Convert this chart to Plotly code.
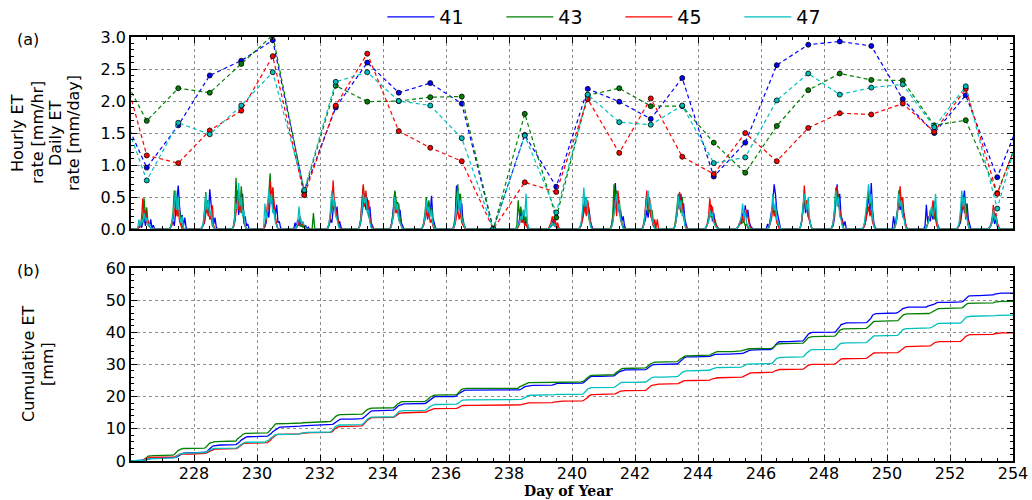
import plotly.graph_objects as go

# ---------------------------------------------------------------------------
# Data
# ---------------------------------------------------------------------------
SERIES = ["41", "43", "45", "47"]
COLORS = ["#0000ff", "#008000", "#ff0000", "#00bfbf"]

FIRST_DAY = 226          # first day of year shown
N_DAYS = 28              # days 226 ... 253
HOUR_START = 5           # first daytime hour held in the hourly tables

# Daily ET [mm/day], one value per day (plotted at noon), days 225 ... 254
DAILY_41 = [2.04, 0.96, 1.62, 2.40, 2.63, 2.95, 0.59, 1.90, 2.60, 2.13, 2.28, 1.96, 0.00, 1.47, 0.66,
            2.19, 1.99, 1.72, 2.36, 0.82, 1.35, 2.56, 2.88, 2.93, 2.86, 2.03, 1.50, 2.09, 0.81, 2.05]
DAILY_43 = [2.62, 1.69, 2.20, 2.13, 2.58, 3.03, 0.58, 2.24, 1.99, 2.00, 2.06, 2.07, 0.00, 1.80, 0.18,
            2.09, 2.20, 1.92, 1.92, 1.35, 0.88, 1.61, 2.17, 2.43, 2.33, 2.32, 1.62, 1.70, 0.56, 1.85]
DAILY_45 = [2.96, 1.15, 1.03, 1.54, 1.85, 2.70, 0.53, 1.93, 2.74, 1.53, 1.27, 1.06, 0.00, 0.73, 0.58,
            2.03, 1.19, 2.04, 1.13, 0.86, 1.50, 1.06, 1.58, 1.81, 1.79, 1.96, 1.52, 2.19, 0.55, 1.85]
DAILY_47 = [2.14, 0.76, 1.66, 1.48, 1.93, 2.45, 0.61, 2.30, 2.45, 2.00, 1.93, 1.42, 0.00, 1.46, 0.26,
            2.10, 1.67, 1.63, 1.93, 1.03, 1.12, 2.01, 2.43, 2.10, 2.21, 2.26, 1.59, 2.23, 0.32, 2.05]

# Hourly ET [mm/hr], hours 05 ... 19 of each day 226 ... 253 (other hours are zero)
HOURLY_41 = [
    [0.00, 0.03, 0.08, 0.02, 0.12, 0.18, 0.05, 0.20, 0.10, 0.04, 0.15, 0.02, 0.06, 0.00, 0.00],
    [0.00, 0.02, 0.06, 0.12, 0.05, 0.30, 0.45, 0.68, 0.35, 0.15, 0.22, 0.05, 0.18, 0.02, 0.00],
    [0.00, 0.02, 0.05, 0.10, 0.28, 0.45, 0.20, 0.62, 0.40, 0.12, 0.08, 0.18, 0.03, 0.00, 0.00],
    [0.00, 0.03, 0.12, 0.35, 0.60, 0.22, 0.48, 0.30, 0.55, 0.15, 0.20, 0.05, 0.08, 0.00, 0.00],
    [0.00, 0.04, 0.10, 0.30, 0.18, 0.45, 0.60, 0.32, 0.40, 0.22, 0.38, 0.10, 0.12, 0.02, 0.00],
    [0.10, 0.02, 0.15, 0.05, 0.12, 0.04, 0.08, 0.02, 0.06, 0.00, 0.03, 0.00, 0.00, 0.00, 0.00],
    [0.00, 0.02, 0.06, 0.15, 0.10, 0.30, 0.45, 0.22, 0.35, 0.08, 0.12, 0.03, 0.00, 0.00, 0.00],
    [0.00, 0.03, 0.10, 0.25, 0.40, 0.55, 0.30, 0.48, 0.20, 0.35, 0.10, 0.05, 0.00, 0.00, 0.00],
    [0.00, 0.04, 0.15, 0.35, 0.58, 0.25, 0.42, 0.18, 0.30, 0.10, 0.05, 0.00, 0.00, 0.00, 0.00],
    [0.00, 0.03, 0.08, 0.20, 0.35, 0.15, 0.40, 0.25, 0.52, 0.18, 0.10, 0.02, 0.00, 0.00, 0.00],
    [0.00, 0.05, 0.20, 0.68, 0.30, 0.55, 0.22, 0.40, 0.10, 0.05, 0.00, 0.00, 0.00, 0.00, 0.00],
    [0.00, 0.00, 0.00, 0.00, 0.00, 0.00, 0.00, 0.00, 0.00, 0.00, 0.00, 0.00, 0.00, 0.00, 0.00],
    [0.00, 0.02, 0.05, 0.15, 0.30, 0.10, 0.22, 0.05, 0.15, 0.08, 0.02, 0.00, 0.00, 0.00, 0.00],
    [0.00, 0.00, 0.02, 0.05, 0.10, 0.15, 0.04, 0.08, 0.02, 0.00, 0.00, 0.00, 0.00, 0.00, 0.00],
    [0.00, 0.02, 0.08, 0.20, 0.35, 0.50, 0.25, 0.40, 0.30, 0.12, 0.05, 0.00, 0.00, 0.00, 0.00],
    [0.00, 0.05, 0.15, 0.40, 0.72, 0.35, 0.55, 0.25, 0.30, 0.12, 0.20, 0.05, 0.00, 0.00, 0.00],
    [0.00, 0.02, 0.08, 0.15, 0.30, 0.18, 0.35, 0.25, 0.12, 0.05, 0.02, 0.00, 0.00, 0.00, 0.00],
    [0.00, 0.03, 0.10, 0.22, 0.45, 0.30, 0.55, 0.28, 0.40, 0.15, 0.05, 0.00, 0.00, 0.00, 0.00],
    [0.00, 0.02, 0.06, 0.15, 0.28, 0.38, 0.12, 0.25, 0.10, 0.05, 0.02, 0.00, 0.00, 0.00, 0.00],
    [0.00, 0.02, 0.05, 0.12, 0.08, 0.25, 0.15, 0.37, 0.18, 0.30, 0.12, 0.05, 0.02, 0.00, 0.00],
    [0.08, 0.02, 0.15, 0.25, 0.40, 0.70, 0.55, 0.30, 0.20, 0.05, 0.00, 0.00, 0.00, 0.00, 0.00],
    [0.00, 0.03, 0.12, 0.30, 0.45, 0.25, 0.38, 0.20, 0.15, 0.05, 0.00, 0.00, 0.00, 0.00, 0.00],
    [0.00, 0.02, 0.05, 0.18, 0.40, 0.70, 0.35, 0.55, 0.20, 0.15, 0.05, 0.12, 0.00, 0.00, 0.00],
    [0.00, 0.02, 0.06, 0.15, 0.35, 0.55, 0.25, 0.72, 0.30, 0.10, 0.02, 0.00, 0.00, 0.00, 0.00],
    [0.20, 0.05, 0.10, 0.25, 0.45, 0.30, 0.40, 0.18, 0.25, 0.08, 0.02, 0.00, 0.00, 0.00, 0.00],
    [0.05, 0.38, 0.10, 0.20, 0.12, 0.30, 0.15, 0.43, 0.25, 0.10, 0.05, 0.00, 0.00, 0.00, 0.00],
    [0.00, 0.02, 0.05, 0.10, 0.25, 0.45, 0.60, 0.30, 0.40, 0.15, 0.05, 0.00, 0.00, 0.00, 0.00],
    [0.00, 0.02, 0.05, 0.10, 0.20, 0.08, 0.15, 0.05, 0.02, 0.00, 0.00, 0.00, 0.00, 0.00, 0.00],
]
HOURLY_43 = [
    [0.00, 0.02, 0.10, 0.05, 0.20, 0.48, 0.15, 0.34, 0.08, 0.05, 0.02, 0.00, 0.00, 0.00, 0.00],
    [0.00, 0.03, 0.10, 0.25, 0.60, 0.35, 0.50, 0.20, 0.30, 0.10, 0.05, 0.00, 0.00, 0.00, 0.00],
    [0.00, 0.02, 0.08, 0.30, 0.58, 0.25, 0.45, 0.15, 0.20, 0.05, 0.02, 0.00, 0.00, 0.00, 0.00],
    [0.00, 0.05, 0.20, 0.80, 0.35, 0.55, 0.25, 0.67, 0.30, 0.10, 0.05, 0.00, 0.00, 0.00, 0.00],
    [0.00, 0.05, 0.15, 0.35, 0.55, 0.87, 0.40, 0.65, 0.25, 0.15, 0.05, 0.00, 0.00, 0.00, 0.00],
    [0.00, 0.02, 0.05, 0.10, 0.04, 0.08, 0.03, 0.05, 0.02, 0.00, 0.00, 0.00, 0.00, 0.00, 0.25],
    [0.00, 0.02, 0.10, 0.25, 0.50, 0.30, 0.45, 0.20, 0.25, 0.08, 0.02, 0.00, 0.00, 0.00, 0.00],
    [0.00, 0.04, 0.15, 0.40, 0.68, 0.35, 0.50, 0.30, 0.20, 0.10, 0.05, 0.00, 0.00, 0.00, 0.00],
    [0.00, 0.03, 0.12, 0.30, 0.60, 0.45, 0.25, 0.40, 0.15, 0.05, 0.00, 0.00, 0.00, 0.00, 0.00],
    [0.00, 0.02, 0.10, 0.25, 0.50, 0.30, 0.45, 0.20, 0.35, 0.10, 0.05, 0.00, 0.00, 0.00, 0.00],
    [0.00, 0.04, 0.15, 0.50, 0.70, 0.35, 0.55, 0.20, 0.15, 0.05, 0.00, 0.00, 0.00, 0.00, 0.00],
    [0.00, 0.00, 0.00, 0.00, 0.00, 0.00, 0.00, 0.00, 0.00, 0.00, 0.00, 0.00, 0.00, 0.00, 0.00],
    [0.00, 0.05, 0.45, 0.20, 0.35, 0.15, 0.30, 0.10, 0.20, 0.05, 0.00, 0.00, 0.00, 0.00, 0.00],
    [0.00, 0.00, 0.02, 0.04, 0.08, 0.05, 0.10, 0.03, 0.00, 0.00, 0.00, 0.00, 0.00, 0.00, 0.00],
    [0.00, 0.02, 0.06, 0.15, 0.30, 0.40, 0.22, 0.35, 0.15, 0.05, 0.00, 0.00, 0.00, 0.00, 0.00],
    [0.00, 0.05, 0.20, 0.70, 0.40, 0.60, 0.30, 0.45, 0.20, 0.10, 0.05, 0.00, 0.00, 0.00, 0.00],
    [0.00, 0.03, 0.12, 0.30, 0.55, 0.25, 0.48, 0.20, 0.30, 0.10, 0.05, 0.00, 0.00, 0.00, 0.00],
    [0.00, 0.03, 0.15, 0.35, 0.55, 0.40, 0.25, 0.50, 0.20, 0.08, 0.02, 0.00, 0.00, 0.00, 0.00],
    [0.00, 0.02, 0.06, 0.12, 0.25, 0.18, 0.22, 0.10, 0.15, 0.05, 0.02, 0.00, 0.00, 0.00, 0.00],
    [0.00, 0.02, 0.05, 0.08, 0.15, 0.10, 0.12, 0.05, 0.08, 0.02, 0.00, 0.00, 0.00, 0.00, 0.00],
    [0.00, 0.02, 0.10, 0.20, 0.35, 0.25, 0.30, 0.15, 0.10, 0.02, 0.00, 0.00, 0.00, 0.00, 0.00],
    [0.00, 0.03, 0.12, 0.35, 0.50, 0.30, 0.45, 0.20, 0.15, 0.05, 0.00, 0.00, 0.00, 0.00, 0.00],
    [0.00, 0.03, 0.10, 0.30, 0.65, 0.40, 0.55, 0.25, 0.20, 0.05, 0.00, 0.00, 0.00, 0.00, 0.00],
    [0.00, 0.02, 0.10, 0.25, 0.45, 0.60, 0.35, 0.50, 0.20, 0.05, 0.00, 0.00, 0.00, 0.00, 0.00],
    [0.00, 0.05, 0.15, 0.30, 0.60, 0.40, 0.50, 0.25, 0.20, 0.05, 0.00, 0.00, 0.00, 0.00, 0.00],
    [0.00, 0.02, 0.08, 0.15, 0.25, 0.20, 0.35, 0.15, 0.30, 0.10, 0.02, 0.00, 0.00, 0.00, 0.00],
    [0.00, 0.02, 0.06, 0.15, 0.30, 0.50, 0.25, 0.40, 0.20, 0.05, 0.00, 0.00, 0.00, 0.00, 0.00],
    [0.00, 0.02, 0.05, 0.12, 0.30, 0.15, 0.20, 0.08, 0.02, 0.00, 0.00, 0.00, 0.00, 0.00, 0.00],
]
HOURLY_45 = [
    [0.00, 0.02, 0.05, 0.15, 0.48, 0.20, 0.30, 0.10, 0.12, 0.04, 0.02, 0.00, 0.00, 0.00, 0.00],
    [0.00, 0.02, 0.05, 0.15, 0.25, 0.40, 0.20, 0.30, 0.12, 0.05, 0.00, 0.00, 0.00, 0.00, 0.00],
    [0.00, 0.02, 0.06, 0.12, 0.25, 0.35, 0.20, 0.28, 0.15, 0.37, 0.05, 0.00, 0.00, 0.00, 0.00],
    [0.00, 0.03, 0.10, 0.25, 0.45, 0.30, 0.50, 0.25, 0.35, 0.10, 0.05, 0.00, 0.00, 0.00, 0.00],
    [0.00, 0.04, 0.15, 0.40, 0.30, 0.75, 0.45, 0.65, 0.35, 0.20, 0.05, 0.00, 0.00, 0.00, 0.00],
    [0.00, 0.02, 0.05, 0.10, 0.20, 0.06, 0.10, 0.03, 0.02, 0.00, 0.00, 0.00, 0.00, 0.00, 0.00],
    [0.00, 0.02, 0.08, 0.20, 0.35, 0.76, 0.40, 0.30, 0.20, 0.08, 0.02, 0.00, 0.00, 0.00, 0.00],
    [0.00, 0.04, 0.15, 0.45, 0.70, 0.35, 0.60, 0.30, 0.45, 0.15, 0.05, 0.00, 0.00, 0.00, 0.00],
    [0.00, 0.03, 0.10, 0.20, 0.45, 0.25, 0.35, 0.15, 0.10, 0.05, 0.00, 0.00, 0.00, 0.00, 0.00],
    [0.00, 0.02, 0.06, 0.15, 0.30, 0.18, 0.25, 0.10, 0.15, 0.05, 0.00, 0.00, 0.00, 0.00, 0.00],
    [0.00, 0.02, 0.08, 0.20, 0.30, 0.15, 0.25, 0.10, 0.05, 0.02, 0.00, 0.00, 0.00, 0.00, 0.00],
    [0.00, 0.00, 0.00, 0.00, 0.00, 0.00, 0.00, 0.00, 0.00, 0.00, 0.00, 0.00, 0.00, 0.00, 0.00],
    [0.00, 0.00, 0.03, 0.08, 0.20, 0.10, 0.15, 0.05, 0.08, 0.02, 0.00, 0.00, 0.00, 0.00, 0.00],
    [0.00, 0.00, 0.05, 0.10, 0.20, 0.08, 0.15, 0.05, 0.10, 0.02, 0.00, 0.00, 0.00, 0.00, 0.00],
    [0.00, 0.02, 0.06, 0.15, 0.25, 0.35, 0.20, 0.45, 0.25, 0.10, 0.02, 0.00, 0.00, 0.00, 0.00],
    [0.00, 0.03, 0.10, 0.25, 0.45, 0.20, 0.60, 0.35, 0.15, 0.08, 0.02, 0.00, 0.00, 0.00, 0.00],
    [0.00, 0.03, 0.12, 0.35, 0.60, 0.30, 0.50, 0.20, 0.15, 0.05, 0.15, 0.02, 0.15, 0.00, 0.00],
    [0.00, 0.02, 0.10, 0.25, 0.45, 0.58, 0.30, 0.40, 0.20, 0.08, 0.02, 0.00, 0.00, 0.00, 0.00],
    [0.00, 0.02, 0.08, 0.20, 0.48, 0.25, 0.35, 0.15, 0.10, 0.05, 0.00, 0.00, 0.00, 0.00, 0.00],
    [0.00, 0.02, 0.05, 0.10, 0.08, 0.20, 0.12, 0.25, 0.30, 0.15, 0.08, 0.02, 0.00, 0.00, 0.00],
    [0.00, 0.02, 0.08, 0.15, 0.35, 0.20, 0.25, 0.10, 0.05, 0.00, 0.00, 0.00, 0.00, 0.00, 0.00],
    [0.00, 0.03, 0.12, 0.30, 0.68, 0.35, 0.45, 0.20, 0.10, 0.05, 0.00, 0.00, 0.00, 0.00, 0.00],
    [0.00, 0.02, 0.10, 0.25, 0.50, 0.67, 0.40, 0.30, 0.15, 0.05, 0.00, 0.00, 0.00, 0.00, 0.00],
    [0.00, 0.02, 0.06, 0.15, 0.25, 0.35, 0.20, 0.30, 0.10, 0.03, 0.00, 0.00, 0.00, 0.00, 0.00],
    [0.00, 0.03, 0.10, 0.25, 0.45, 0.67, 0.35, 0.50, 0.20, 0.08, 0.02, 0.00, 0.00, 0.00, 0.00],
    [0.00, 0.02, 0.08, 0.15, 0.30, 0.20, 0.45, 0.25, 0.15, 0.05, 0.00, 0.00, 0.00, 0.00, 0.00],
    [0.00, 0.02, 0.08, 0.20, 0.45, 0.30, 0.40, 0.15, 0.25, 0.05, 0.00, 0.00, 0.00, 0.00, 0.00],
    [0.00, 0.02, 0.05, 0.15, 0.38, 0.20, 0.25, 0.10, 0.05, 0.00, 0.00, 0.00, 0.00, 0.00, 0.00],
]
HOURLY_47 = [
    [0.00, 0.15, 0.05, 0.15, 0.10, 0.25, 0.12, 0.18, 0.05, 0.08, 0.02, 0.00, 0.00, 0.00, 0.00],
    [0.00, 0.02, 0.08, 0.20, 0.45, 0.60, 0.30, 0.50, 0.20, 0.10, 0.20, 0.02, 0.00, 0.00, 0.00],
    [0.00, 0.02, 0.08, 0.25, 0.55, 0.30, 0.45, 0.20, 0.30, 0.10, 0.02, 0.00, 0.00, 0.00, 0.00],
    [0.00, 0.04, 0.15, 0.40, 0.30, 0.72, 0.35, 0.50, 0.20, 0.30, 0.05, 0.00, 0.00, 0.00, 0.00],
    [0.00, 0.40, 0.15, 0.30, 0.62, 0.40, 0.55, 0.25, 0.30, 0.10, 0.05, 0.00, 0.00, 0.00, 0.00],
    [0.00, 0.02, 0.10, 0.35, 0.15, 0.08, 0.12, 0.05, 0.02, 0.00, 0.00, 0.00, 0.00, 0.00, 0.00],
    [0.00, 0.02, 0.10, 0.30, 0.60, 0.35, 0.45, 0.20, 0.15, 0.05, 0.00, 0.00, 0.00, 0.00, 0.00],
    [0.00, 0.03, 0.12, 0.30, 0.55, 0.40, 0.50, 0.25, 0.30, 0.10, 0.02, 0.00, 0.00, 0.00, 0.00],
    [0.00, 0.02, 0.10, 0.25, 0.50, 0.30, 0.40, 0.15, 0.10, 0.05, 0.00, 0.00, 0.00, 0.00, 0.00],
    [0.00, 0.02, 0.08, 0.20, 0.45, 0.25, 0.35, 0.20, 0.30, 0.08, 0.02, 0.00, 0.00, 0.00, 0.00],
    [0.00, 0.03, 0.12, 0.35, 0.60, 0.30, 0.45, 0.15, 0.10, 0.02, 0.00, 0.00, 0.00, 0.00, 0.00],
    [0.00, 0.00, 0.00, 0.00, 0.00, 0.00, 0.00, 0.00, 0.00, 0.00, 0.00, 0.00, 0.00, 0.00, 0.00],
    [0.00, 0.02, 0.05, 0.10, 0.20, 0.15, 0.30, 0.20, 0.55, 0.10, 0.02, 0.00, 0.00, 0.00, 0.00],
    [0.00, 0.00, 0.02, 0.05, 0.10, 0.05, 0.08, 0.02, 0.00, 0.00, 0.00, 0.00, 0.00, 0.00, 0.00],
    [0.00, 0.03, 0.10, 0.30, 0.65, 0.35, 0.50, 0.25, 0.20, 0.05, 0.00, 0.00, 0.00, 0.00, 0.00],
    [0.00, 0.02, 0.10, 0.25, 0.45, 0.55, 0.30, 0.40, 0.15, 0.05, 0.00, 0.00, 0.00, 0.00, 0.00],
    [0.00, 0.02, 0.10, 0.30, 0.45, 0.60, 0.30, 0.40, 0.15, 0.05, 0.00, 0.00, 0.00, 0.00, 0.00],
    [0.00, 0.02, 0.10, 0.25, 0.52, 0.30, 0.45, 0.20, 0.25, 0.05, 0.00, 0.00, 0.00, 0.00, 0.00],
    [0.00, 0.02, 0.06, 0.12, 0.30, 0.20, 0.25, 0.10, 0.05, 0.02, 0.00, 0.00, 0.00, 0.00, 0.00],
    [0.00, 0.02, 0.05, 0.12, 0.20, 0.40, 0.15, 0.30, 0.10, 0.05, 0.02, 0.00, 0.00, 0.00, 0.00],
    [0.00, 0.03, 0.10, 0.25, 0.55, 0.30, 0.40, 0.15, 0.10, 0.02, 0.00, 0.00, 0.00, 0.00, 0.00],
    [0.00, 0.03, 0.15, 0.35, 0.55, 0.40, 0.30, 0.50, 0.15, 0.05, 0.00, 0.00, 0.00, 0.00, 0.00],
    [0.00, 0.02, 0.10, 0.30, 0.60, 0.35, 0.50, 0.20, 0.15, 0.05, 0.00, 0.00, 0.00, 0.00, 0.00],
    [0.00, 0.03, 0.12, 0.30, 0.50, 0.70, 0.40, 0.55, 0.20, 0.05, 0.00, 0.00, 0.00, 0.00, 0.00],
    [0.00, 0.02, 0.10, 0.30, 0.55, 0.35, 0.45, 0.20, 0.15, 0.05, 0.00, 0.00, 0.00, 0.00, 0.00],
    [0.00, 0.02, 0.08, 0.15, 0.25, 0.35, 0.20, 0.30, 0.55, 0.15, 0.02, 0.00, 0.00, 0.00, 0.00],
    [0.00, 0.03, 0.10, 0.30, 0.60, 0.35, 0.50, 0.20, 0.15, 0.05, 0.00, 0.00, 0.00, 0.00, 0.00],
    [0.00, 0.02, 0.05, 0.10, 0.30, 0.15, 0.20, 0.05, 0.02, 0.00, 0.00, 0.00, 0.00, 0.00, 0.00],
]

DAILY = [DAILY_41, DAILY_43, DAILY_45, DAILY_47]
HOURLY = [HOURLY_41, HOURLY_43, HOURLY_45, HOURLY_47]

X_TICKS = list(range(228, 256, 2))
Y1_TICKS = [0.0, 0.5, 1.0, 1.5, 2.0, 2.5, 3.0]
Y2_TICKS = [0, 10, 20, 30, 40, 50, 60]

# ---------------------------------------------------------------------------
# Helpers
# ---------------------------------------------------------------------------
def hourly_series(table):
    """Full hourly timeline (day-of-year, mm/hr) for a table of daytime hours."""
    t, v = [], []
    for d in range(N_DAYS):
        for h in range(24):
            k = h - HOUR_START
            t.append(FIRST_DAY + d + h / 24.0)
            v.append(table[d][k] if 0 <= k < len(table[d]) else 0.0)
    t.append(FIRST_DAY + N_DAYS)
    v.append(0.0)
    return t, v


def cumulative_series(table, daily):
    """Running total of daily ET, each day spread over its hours as the hourly ET runs."""
    t, c = [], []
    total = 0.0
    for d in range(N_DAYS):
        day_et = daily[d + 1]
        day_sum = sum(table[d])
        run = 0.0
        for h in range(24):
            k = h - HOUR_START
            if 0 <= k < len(table[d]):
                run += table[d][k]
            frac = run / day_sum if day_sum > 0 else 0.0
            t.append(FIRST_DAY + d + (h + 1) / 24.0)
            c.append(total + day_et * frac)
        total += day_et
    return [FIRST_DAY] + t, [0.0] + c


# ---------------------------------------------------------------------------
# Figure
# ---------------------------------------------------------------------------
fig = go.Figure()
daily_days = [FIRST_DAY - 1 + i + 0.5 for i in range(len(DAILY_41))]

for name, color, table in zip(SERIES, COLORS, HOURLY):
    t, v = hourly_series(table)
    fig.add_trace(go.Scatter(x=t, y=v, mode="lines", name=name,
                             line=dict(color=color, width=1.3),
                             xaxis="x", yaxis="y", legendgroup=name))

for name, color, daily in zip(SERIES, COLORS, DAILY):
    fig.add_trace(go.Scatter(x=daily_days, y=daily, mode="lines+markers", showlegend=False,
                             line=dict(color=color, width=1.2, dash="4px,3px"),
                             marker=dict(size=5, color=color, line=dict(color="black", width=0.8)),
                             xaxis="x", yaxis="y", legendgroup=name))

for name, color, table, daily in zip(SERIES, COLORS, HOURLY, DAILY):
    t, c = cumulative_series(table, daily)
    fig.add_trace(go.Scatter(x=t, y=c, mode="lines", showlegend=False,
                             line=dict(color=color, width=1.3),
                             xaxis="x2", yaxis="y2", legendgroup=name))

FONT = "DejaVu Sans"
axis_common = dict(
    showline=True, linecolor="black", linewidth=1.5, mirror="allticks",
    ticks="inside", ticklen=6, tickcolor="black", tickwidth=1,
    showgrid=True, gridcolor="#8c8c8c", griddash="dot", gridwidth=1,
    zeroline=False, automargin=False,
    tickfont=dict(family=FONT, size=16, color="black"),
)

fig.update_layout(
    width=1032, height=500,
    margin=dict(l=131, r=19, t=37, b=39, autoexpand=False),
    paper_bgcolor="white", plot_bgcolor="white",
    font=dict(family=FONT, color="black"),
    showlegend=True,
    legend=dict(orientation="h", x=0.285, xanchor="left", y=1.047, yanchor="middle",
                font=dict(family=FONT, size=19, color="black"),
                itemwidth=47, entrywidth=57, entrywidthmode="pixels",
                bgcolor="rgba(0,0,0,0)", borderwidth=0),
    xaxis=dict(domain=[0, 1], anchor="y", range=[226, 254], tickvals=X_TICKS,
               showticklabels=False,
               minor=dict(dtick=0.5, ticks="inside", ticklen=3, tickcolor="black", showgrid=False),
               **axis_common),
    yaxis=dict(domain=[0.547, 1], anchor="x", range=[0, 3.0], tickvals=Y1_TICKS,
               tickformat=".1f",
               minor=dict(dtick=0.1, ticks="inside", ticklen=3, tickcolor="black", showgrid=False),
               **axis_common),
    xaxis2=dict(domain=[0, 1], anchor="y2", range=[226, 254], tickvals=X_TICKS,
                ticklabelstandoff=-3,
                minor=dict(dtick=0.5, ticks="inside", ticklen=3, tickcolor="black", showgrid=False),
                **axis_common),
    yaxis2=dict(domain=[0, 0.455], anchor="x2", range=[0, 60], tickvals=Y2_TICKS,
                minor=dict(dtick=2, ticks="inside", ticklen=3, tickcolor="black", showgrid=False),
                **axis_common),
)

# Axis titles and panel labels, placed in pixel terms relative to the plot area
PLOT_L, PLOT_W, PLOT_T, PLOT_H = 131, 882, 37, 424


def px_x(px):
    return (px - PLOT_L) / PLOT_W


def px_y(py):
    return 1 - (py - PLOT_T) / PLOT_H


title_font = dict(family=FONT, size=16, color="black")
for text, cx in [("Hourly ET", 18), ("rate [mm/hr]", 38), ("Daily ET", 56), ("rate [mm/day]", 74)]:
    fig.add_annotation(text=text, x=px_x(cx), y=px_y(133), xref="paper", yref="paper",
                       textangle=-90, showarrow=False, font=title_font,
                       xanchor="center", yanchor="middle")
for text, cx in [("Cumulative ET", 28), ("[mm]", 47)]:
    fig.add_annotation(text=text, x=px_x(cx), y=px_y(364), xref="paper", yref="paper",
                       textangle=-90, showarrow=False, font=title_font,
                       xanchor="center", yanchor="middle")
for text, cy in [("(a)", 40), ("(b)", 270)]:
    fig.add_annotation(text=text, x=px_x(28), y=px_y(cy), xref="paper", yref="paper",
                       showarrow=False, font=dict(family=FONT, size=16, color="black"),
                       xanchor="center", yanchor="middle")
fig.add_annotation(text="<b>Day of Year</b>", x=px_x(568), y=px_y(491), xref="paper", yref="paper",
                   showarrow=False, font=dict(family="DejaVu Serif", size=14, color="black"),
                   xanchor="center", yanchor="middle")

fig.write_html("out.html")
